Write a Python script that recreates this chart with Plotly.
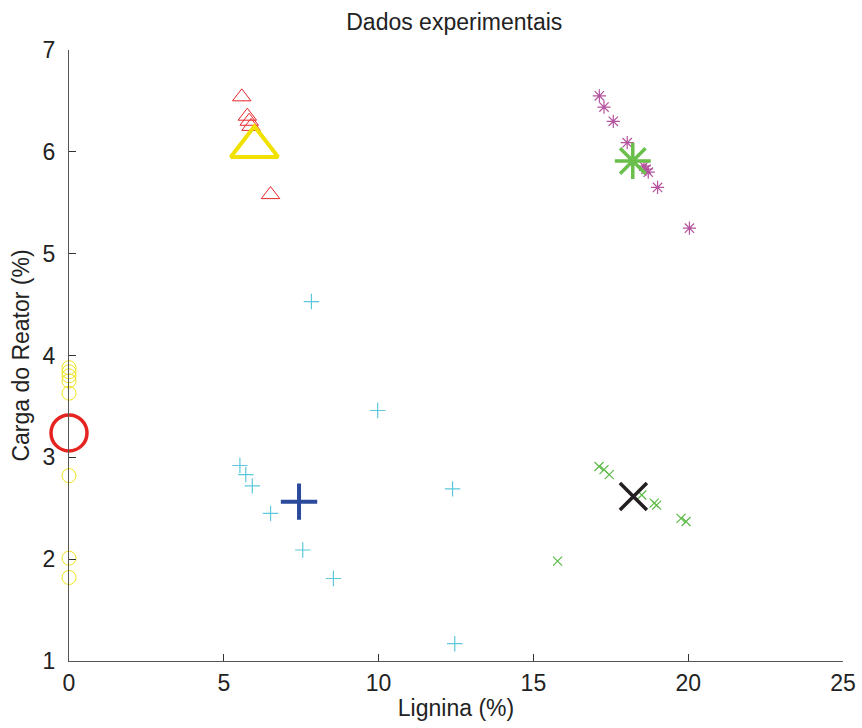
import plotly.graph_objects as go

# Experimental points grouped by cluster (Lignina %, Carga do Reator %)
circ_x = [0, 0, 0, 0, 0, 0, 0, 0]
circ_y = [3.88, 3.84, 3.80, 3.75, 3.63, 2.82, 2.01, 1.82]

tri_x = [5.58, 5.76, 5.82, 5.88, 6.51]
tri_y = [6.54, 6.35, 6.30, 6.25, 5.58]

plus_x = [7.83, 9.97, 5.52, 5.71, 5.92, 6.51, 7.55, 8.54, 12.39, 12.46]
plus_y = [4.53, 3.46, 2.92, 2.83, 2.72, 2.45, 2.09, 1.81, 2.69, 1.17]

xm_x = [17.12, 17.28, 17.45, 18.50, 18.90, 18.98, 19.77, 19.93, 15.78]
xm_y = [2.91, 2.88, 2.83, 2.63, 2.55, 2.53, 2.40, 2.37, 1.98]

ast_x = [17.13, 17.28, 17.58, 18.03, 18.57, 18.64, 18.71, 19.01, 20.04]
ast_y = [6.55, 6.44, 6.30, 6.09, 5.86, 5.83, 5.80, 5.65, 5.25]

# Cluster centres
cen_circ = (0.0, 3.24)
cen_tri = (5.99, 6.05)
cen_plus = (7.43, 2.565)
cen_xm = (18.23, 2.615)
cen_ast = (18.21, 5.91)

x_ticks = [0, 5, 10, 15, 20, 25]
y_ticks = [1, 2, 3, 4, 5, 6, 7]

fig = go.Figure()


def add(x, y, symbol, color, size, width):
    fig.add_trace(go.Scatter(
        x=x, y=y, mode="markers", cliponaxis=False, showlegend=False,
        marker=dict(symbol=symbol, size=size, color=color,
                    line=dict(color=color, width=width)),
    ))


add(circ_x, circ_y, "circle-open", "#f0e31c", 14, 1)
add(tri_x, tri_y, "triangle-up-open", "#e8262a", 16, 1)
add(plus_x, plus_y, "cross-thin", "#5bc8dc", 11, 1.2)
add(xm_x, xm_y, "x-thin", "#5cbb46", 9, 1.2)
add(ast_x, ast_y, "asterisk", "#b5539f", 11, 1.2)

add([cen_circ[0]], [cen_circ[1]], "circle-open", "#e52421", 36, 3.5)
add([cen_tri[0]], [cen_tri[1]], "triangle-up-open", "#f0e100", 41, 4)
add([cen_plus[0]], [cen_plus[1]], "cross-thin", "#2b4a9b", 26, 4)
add([cen_xm[0]], [cen_xm[1]], "x-thin", "#231f20", 27, 3.5)
add([cen_ast[0]], [cen_ast[1]], "asterisk", "#6abf4b", 30, 3.5)

axis_common = dict(
    showgrid=False, zeroline=False, showline=True, linecolor="#555555",
    linewidth=1, ticks="inside", ticklen=7, tickcolor="#333333",
    tickfont=dict(size=23, color="#222222"), mirror=False, automargin=False,
)

fig.update_layout(
    width=862, height=728,
    margin=dict(l=69, r=19, t=50, b=67),
    paper_bgcolor="white", plot_bgcolor="white",
    font=dict(family="Liberation Sans, Arial, sans-serif", color="#222222"),
    title=dict(text="Dados experimentais", x=0.527, xanchor="center",
               y=1 - 22 / 728, yanchor="middle", yref="container",
               font=dict(size=23, color="#222222")),
    xaxis=dict(range=[0, 25], tickvals=x_ticks, ticklabelstandoff=1,
               title=dict(text="Lignina (%)", font=dict(size=23), standoff=5),
               **axis_common),
    yaxis=dict(range=[1, 7], tickvals=y_ticks, ticklabelstandoff=8,
               title=dict(text="Carga do Reator (%)", font=dict(size=23), standoff=6),
               **axis_common),
)

fig.write_html("out.html")
